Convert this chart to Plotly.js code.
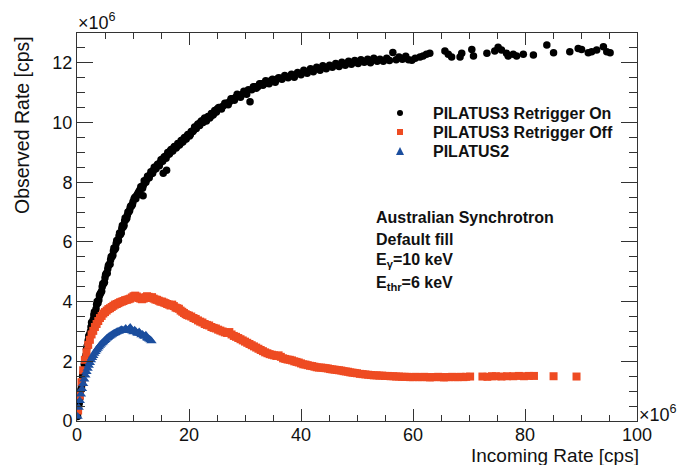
<!DOCTYPE html>
<html>
<head>
<meta charset="utf-8">
<script src="https://cdn.plot.ly/plotly-3.0.1.min.js"></script>
<style>html,body{margin:0;padding:0;background:#fff;}#chart{width:682px;height:465px;}</style>
</head>
<body>
<div id="chart"></div>
<script>
// Values in units of 10^6 cps
const onX = [0.1,0.3,0.5,0.7,0.9,1.1,1.3,1.5,1.7,1.9,2.1,2.4,2.6,2.9,3.1,3.4,3.6,3.9,4.1,4.4,4.6,4.9,5.1,5.4,5.6,5.9,6.1,6.4,6.6,6.9,7.1,7.4,7.6,7.9,8.1,8.4,8.6,8.9,9.1,9.4,9.6,9.9,
  10.2,10.5,10.8,11.1,11.4,11.7,11.8,12.0,12.3,12.6,12.9,13.2,13.5,13.8,14.1,14.4,14.7,15.0,15.3,15.4,15.6,15.9,16.0,16.2,16.5,16.8,17.1,17.4,17.7,18.0,18.3,18.6,18.9,19.2,19.5,19.8,20.1,20.4,20.7,21.0,21.3,21.6,21.9,22.2,22.5,22.8,23.1,23.4,23.7,24.0,24.3,24.6,24.9,
  25.3,25.8,26.4,27.0,27.5,28.1,28.6,29.2,29.8,30.3,30.9,31.5,32.0,32.6,33.2,33.7,34.3,34.9,35.4,36.0,36.6,37.1,37.7,38.3,38.8,39.4,40.0,40.5,41.1,41.7,42.2,42.8,43.4,43.9,44.5,45.1,45.6,46.2,46.8,47.3,47.9,48.5,49.0,49.6,50.2,50.7,51.3,51.9,52.4,53.0,53.6,54.1,54.7,55.3,55.8,56.4,57.0,57.5,58.1,58.7,59.2,
  59.8,60.4,61.25,61.8,62.4,63.0,65.7,66.3,66.9,68.4,68.7,70.5,70.8,73.2,74.6,75.2,75.8,76.7,77.0,77.9,78.5,79.7,81.5,83.9,85.1,88.0,89.5,90.1,91.3,91.9,92.8,94.0,94.6,95.2,
  0.2,0.4,0.6,0.8,1.0,1.2,1.4,1.6,1.8,2.0,2.25,2.5,2.75,3.0,3.25,3.5,3.75,4.0,4.25,4.5,4.75,5.0,5.25,5.5,5.75,6.0,6.25,6.5,6.75,7.0,7.25,7.5,7.75,8.0,8.25,8.5,8.75,9.0,9.25,9.5,9.75,10.0,
  10.35,10.65,10.95,11.25,11.55,11.85,12.15,12.45,12.75,13.05,13.35,13.65,13.95,14.25,14.55,14.85,15.15,15.45,15.75,16.05,16.35,16.65,16.95,17.25,17.55,17.85,18.15,18.45,18.75,19.05,19.35,19.65,19.95,20.25,20.55,20.85,21.15,21.45,21.75,22.05,22.35,22.65,22.95,23.25,23.55,23.85,24.15,24.45,24.75,
  25.05,25.55,26.1,26.7,27.25,27.8,28.35,28.9,29.5,30.0,30.6,31.2,31.75,32.3,32.9,33.45,34.0,34.6,35.15,35.7,36.3];
const onY = [0.15,0.5,0.75,1.05,1.3,1.6,1.9,2.1,2.4,2.55,2.85,3.0,3.3,3.4,3.65,3.75,4.0,4.05,4.25,4.35,4.6,4.65,4.9,4.95,5.2,5.25,5.5,5.55,5.8,5.8,6.05,6.05,6.3,6.3,6.55,6.55,6.8,6.8,7.0,7.05,7.2,7.25,
  7.45,7.45,7.6,7.7,7.85,7.8,7.55,8.05,8.0,8.2,8.15,8.35,8.3,8.5,8.45,8.6,8.55,8.75,8.7,8.3,8.85,8.8,8.4,9.0,8.95,9.1,9.05,9.2,9.15,9.3,9.25,9.4,9.35,9.5,9.45,9.6,9.55,9.7,9.7,9.85,9.8,9.95,9.9,10.05,10.0,10.15,10.05,10.2,10.15,10.3,10.25,10.4,10.35,
  10.5,10.45,10.65,10.6,10.8,10.75,10.95,10.85,11.05,10.95,10.7,11.2,11.15,11.3,11.25,11.4,11.3,11.45,11.35,11.5,11.45,11.58,11.5,11.62,11.52,11.68,11.6,11.75,11.65,11.8,11.7,11.85,11.75,11.9,11.8,11.92,11.85,11.98,11.88,12.02,11.92,12.05,11.95,12.08,11.98,12.1,12.02,12.12,12.0,12.15,12.05,12.12,12.05,12.15,12.08,12.35,12.1,12.2,12.12,12.22,12.1,
  12.09,12.15,12.2,12.23,12.29,12.32,12.4,12.29,12.2,12.2,12.32,12.45,12.23,12.32,12.4,12.52,12.43,12.32,12.23,12.29,12.23,12.29,12.26,12.6,12.34,12.37,12.48,12.45,12.34,12.37,12.43,12.54,12.37,12.34,
  0.3,0.6,0.95,1.15,1.5,1.7,2.05,2.2,2.5,2.7,2.9,3.15,3.3,3.55,3.65,3.9,3.95,4.2,4.3,4.5,4.6,4.8,4.95,5.1,5.25,5.4,5.5,5.7,5.75,5.95,6.05,6.2,6.25,6.45,6.5,6.7,6.75,6.9,7.0,7.15,7.2,7.35,
  7.5,7.55,7.65,7.75,7.85,7.9,8.0,8.1,8.15,8.25,8.3,8.4,8.45,8.55,8.6,8.65,8.75,8.8,8.85,8.9,8.95,9.05,9.05,9.15,9.2,9.2,9.3,9.3,9.4,9.45,9.45,9.55,9.6,9.6,9.7,9.75,9.8,9.9,9.9,10.0,10.0,10.1,10.1,10.15,10.2,10.2,10.3,10.3,10.4,
  10.45,10.5,10.55,10.65,10.7,10.8,10.85,10.9,10.95,11.0,11.1,11.1,11.2,11.2,11.3,11.3,11.35,11.4,11.42,11.45,11.48];

const offX = [0.2,0.5,0.8,1.1,1.4,1.7,2.0,2.3,2.6,2.9,3.2,3.5,3.8,4.1,4.4,4.7,5.0,5.3,5.6,5.9,6.2,6.5,6.8,7.1,7.4,7.7,8.0,8.3,8.6,8.9,9.2,9.5,9.8,10.1,10.4,10.7,11.0,11.3,11.6,11.9,12.2,12.5,12.8,13.1,13.4,13.7,14.0,14.3,14.6,14.9,15.2,15.5,15.8,16.1,16.4,16.7,17.0,17.3,17.6,17.9,18.2,18.5,18.8,19.1,19.4,19.7,
  20.0,20.4,20.8,21.2,21.6,22.0,22.4,22.8,23.2,23.6,24.0,24.4,24.8,25.2,25.6,26.0,26.4,26.8,27.2,27.6,28.0,28.4,28.8,29.2,29.6,30.0,30.4,30.8,31.2,31.6,32.0,32.4,32.8,33.2,33.6,34.0,34.4,34.8,35.2,35.6,36.0,36.4,36.8,37.2,37.6,38.0,38.4,38.8,39.2,39.6,
  40.0,40.4,40.8,41.2,41.6,42.0,42.4,42.8,43.2,43.6,44.0,44.4,44.8,45.2,45.6,46.0,46.4,46.8,47.2,47.6,48.0,48.4,48.8,49.2,49.6,50.0,50.5,51.0,51.5,52.0,52.5,53.0,53.5,54.0,54.5,55.0,55.5,56.0,56.5,57.0,57.5,58.0,58.5,59.0,59.5,
  60.0,60.5,61.0,61.5,62.0,62.5,63.0,63.5,64.0,64.5,65.0,65.5,66.0,66.5,67.0,67.5,68.0,68.5,69.0,69.5,70.2,72.4,73.3,74.1,74.8,75.8,76.8,77.9,78.9,79.8,80.7,81.6,85.1,89.2];
const offY = [0.35,0.85,1.3,1.7,2.05,2.3,2.55,2.72,2.9,3.02,3.15,3.25,3.35,3.45,3.52,3.6,3.65,3.7,3.75,3.78,3.82,3.86,3.9,3.92,3.95,3.98,4.0,4.02,4.05,4.06,4.08,4.1,4.14,4.18,4.2,4.17,4.12,4.1,4.08,4.1,4.15,4.18,4.16,4.12,4.15,4.1,4.07,4.06,4.03,4.0,4.0,3.97,3.95,3.92,3.9,3.87,3.9,3.85,3.8,3.78,3.76,3.7,3.66,3.62,3.58,3.55,
  3.53,3.5,3.45,3.42,3.37,3.33,3.3,3.25,3.22,3.2,3.15,3.12,3.1,3.06,3.03,3.0,2.97,2.95,2.98,2.9,2.85,2.82,2.78,2.74,2.7,2.66,2.62,2.58,2.54,2.5,2.46,2.42,2.38,2.34,2.3,2.27,2.24,2.22,2.2,2.18,2.2,2.15,2.1,2.08,2.06,2.05,2.03,2.0,1.98,1.96,
  1.93,1.9,1.89,1.87,1.85,1.84,1.82,1.8,1.79,1.79,1.78,1.77,1.76,1.74,1.73,1.72,1.71,1.7,1.69,1.67,1.66,1.65,1.63,1.62,1.61,1.6,1.58,1.57,1.56,1.55,1.54,1.53,1.53,1.52,1.52,1.51,1.51,1.5,1.5,1.49,1.49,1.48,1.48,1.48,1.47,
  1.47,1.48,1.47,1.47,1.48,1.47,1.46,1.47,1.47,1.48,1.47,1.46,1.47,1.47,1.48,1.47,1.47,1.48,1.47,1.48,1.49,1.49,1.48,1.5,1.5,1.49,1.5,1.5,1.51,1.5,1.51,1.51,1.5,1.49];

const p2X = [0.1,0.3,0.5,0.7,0.9,1.1,1.3,1.5,1.7,1.9,2.1,2.3,2.5,2.7,2.9,3.1,3.3,3.5,3.7,3.9,4.1,4.3,4.5,4.7,4.9,5.1,5.3,5.5,5.7,5.9,6.1,6.3,6.5,6.7,6.9,7.1,7.3,7.5,7.7,7.9,8.1,8.3,8.5,8.7,8.9,9.1,9.3,9.5,9.7,9.9,10.1,10.3,10.5,10.7,10.9,11.1,11.3,11.5,11.7,11.9,12.1,12.3,12.5,12.7,12.9,13.1,13.3];
const p2Y = [0.15,0.45,0.68,0.9,1.08,1.25,1.4,1.53,1.65,1.76,1.86,1.95,2.04,2.12,2.19,2.26,2.32,2.38,2.43,2.48,2.53,2.57,2.61,2.65,2.69,2.72,2.76,2.79,2.82,2.85,2.87,2.9,2.92,2.94,2.96,2.98,3.0,3.01,3.03,3.06,3.04,3.02,3.05,3.1,3.04,3.02,3.08,3.13,3.06,3.01,2.98,3.04,3.0,2.95,2.93,2.98,2.92,2.88,2.9,2.85,2.83,2.87,2.78,2.76,2.74,2.71,2.68];

const seriesNames = ["PILATUS3 Retrigger On", "PILATUS3 Retrigger Off", "PILATUS2"];
const infoLines = ["Australian Synchrotron", "Default fill", "E<sub>γ</sub>=10 keV", "E<sub>thr</sub>=6 keV"];

const FONT = "Liberation Sans, Arial, Helvetica, sans-serif";
const RED = "#ee4b22", BLUE = "#1b4e9e";

const traces = [
  {x: onX, y: onY, name: seriesNames[0], type: "scatter", mode: "markers",
   marker: {symbol: "circle", size: 7.5, color: "#000"}},
  {x: offX, y: offY, name: seriesNames[1], type: "scatter", mode: "markers",
   marker: {symbol: "square", size: 8, color: RED}},
  {x: p2X, y: p2Y, name: seriesNames[2], type: "scatter", mode: "markers",
   marker: {symbol: "triangle-up", size: 9, color: BLUE}}
];

// pixel -> paper helpers for legend/annotation placement
const L = 77, T = 33, W = 560, H = 388;
const px = v => (v - L) / W;
const py = v => (T + H - v) / H;

const infoY = [217, 239, 260, 283];
const annotations = infoLines.map((t, i) => ({
  text: "<b>" + t + "</b>", xref: "paper", yref: "paper", x: px(374), y: py(infoY[i]),
  xanchor: "left", yanchor: "middle", showarrow: false,
  font: {family: FONT, size: 16, color: "#111"}
}));
const legY = [113, 132, 151];
seriesNames.forEach((n, i) => annotations.push({
  text: "<b>" + n + "</b>", xref: "paper", yref: "paper", x: px(431), y: py(legY[i]),
  xanchor: "left", yanchor: "middle", showarrow: false,
  font: {family: FONT, size: 16, color: "#111"}
}));
annotations.push(
  {text: "Observed Rate [cps]", xref: "paper", yref: "paper", x: px(22), y: 1.0,
   xanchor: "center", yanchor: "top", textangle: -90, showarrow: false, yshift: -1,
   font: {family: FONT, size: 19.5, color: "#111"}},
  {text: "Incoming Rate [cps]", xref: "paper", yref: "paper", x: 1.0, y: py(456),
   xanchor: "right", yanchor: "middle", showarrow: false, xshift: 4,
   font: {family: FONT, size: 19, color: "#111"}},
  {text: "×10<sup>6</sup>", xref: "paper", yref: "paper", x: 0.0, y: 1.0,
   xanchor: "left", yanchor: "bottom", showarrow: false, xshift: -1, yshift: -2,
   font: {family: FONT, size: 18, color: "#111"}},
  {text: "×10<sup>6</sup>", xref: "paper", yref: "paper", x: 1.0, y: 0.0,
   xanchor: "left", yanchor: "bottom", showarrow: false, xshift: 0, yshift: -6,
   font: {family: FONT, size: 18, color: "#111"}}
);

const shapes = [
  {type: "circle", xref: "paper", yref: "paper", x0: px(397), x1: px(403), y0: py(116), y1: py(110),
   fillcolor: "#000", line: {width: 0}},
  {type: "rect", xref: "paper", yref: "paper", x0: px(397), x1: px(403), y0: py(135), y1: py(129),
   fillcolor: RED, line: {width: 0}},
  {type: "path", xref: "paper", yref: "paper",
   path: `M ${px(396)} ${py(155)} L ${px(404)} ${py(155)} L ${px(400)} ${py(147)} Z`,
   fillcolor: BLUE, line: {width: 0}}
];

const layout = {
  width: 682, height: 465,
  margin: {l: 77, r: 45, t: 33, b: 44},
  paper_bgcolor: "#fff", plot_bgcolor: "#fff",
  font: {family: FONT, color: "#111"},
  showlegend: false,
  xaxis: {range: [0, 100], tick0: 0, dtick: 20, ticks: "inside", ticklen: 12, tickwidth: 1,
          tickcolor: "#333", showline: true, linecolor: "#333", linewidth: 1, mirror: "ticks",
          showgrid: false, zeroline: false, ticklabelstandoff: -3,
          tickfont: {family: FONT, size: 18, color: "#111"},
          minor: {dtick: 5, ticklen: 6, ticks: "inside", tickcolor: "#333", tickwidth: 1, showgrid: false}},
  yaxis: {range: [0, 13], tick0: 0, dtick: 2, ticks: "inside", ticklen: 16, tickwidth: 1,
          tickcolor: "#333", showline: true, linecolor: "#333", linewidth: 1, mirror: "ticks",
          showgrid: false, zeroline: false, tickfont: {family: FONT, size: 18, color: "#111"},
          minor: {dtick: 0.5, ticklen: 8, ticks: "inside", tickcolor: "#333", tickwidth: 1, showgrid: false}},
  annotations: annotations,
  shapes: shapes
};

Plotly.newPlot("chart", traces, layout, {displayModeBar: false, staticPlot: true});
</script>
</body>
</html>
